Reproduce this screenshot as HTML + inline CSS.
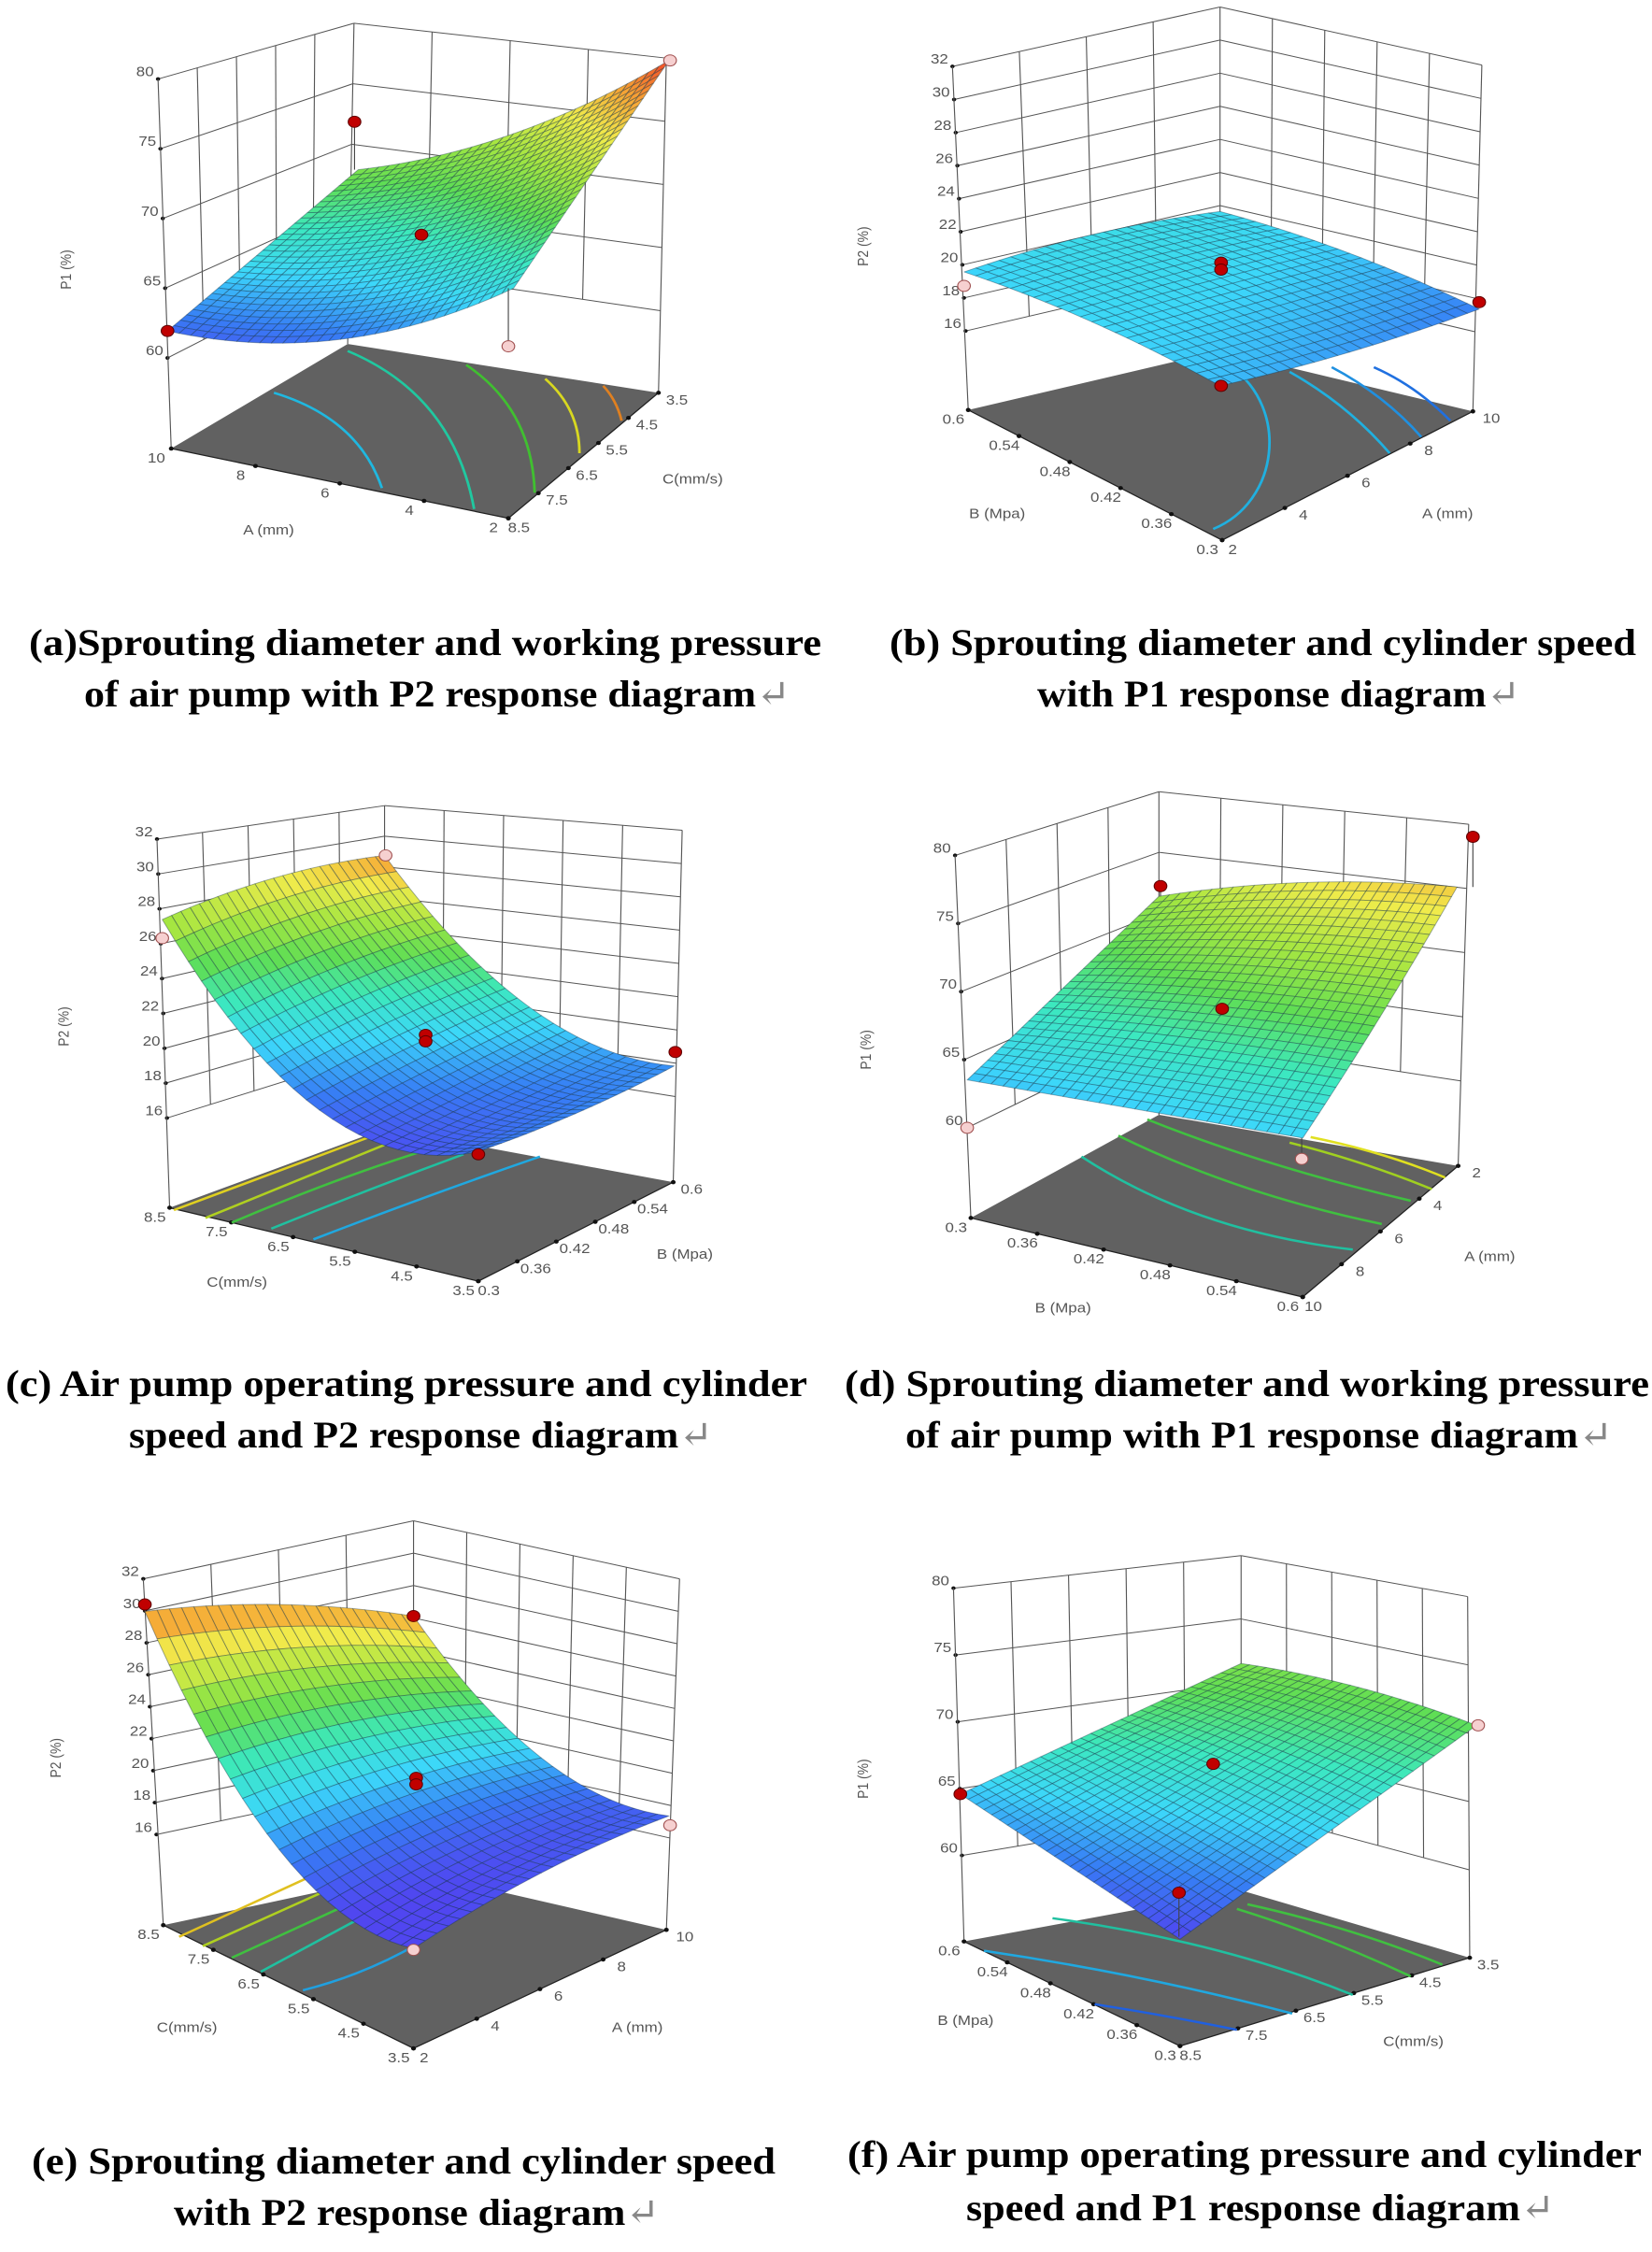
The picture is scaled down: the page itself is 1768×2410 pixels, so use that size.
<!DOCTYPE html>
<html><head><meta charset="utf-8"><style>body{margin:0;background:#fff}.ax text{font-family:"Liberation Sans",sans-serif}.cap text{font-family:"Liberation Serif","DejaVu Serif",serif;font-weight:bold}</style></head>
<body>
<svg id="root" xmlns="http://www.w3.org/2000/svg" width="1768" height="2405" viewBox="0 0 1768 2405">
<rect width="1768" height="2405" fill="#fff"/>
<g id="panels" class="ax"></g>
<g class="cap" font-size="40" fill="#000">
<text x="31" y="701" textLength="848" lengthAdjust="spacingAndGlyphs">(a)Sprouting diameter and working pressure</text>
<text x="90" y="756" textLength="756" lengthAdjust="spacingAndGlyphs">of air pump with P2 response diagram<tspan fill="#888" font-weight="normal">↵</tspan></text>
<text x="952" y="701" textLength="799" lengthAdjust="spacingAndGlyphs">(b) Sprouting diameter and cylinder speed</text>
<text x="1110" y="756" textLength="517" lengthAdjust="spacingAndGlyphs">with P1 response diagram<tspan fill="#888" font-weight="normal">↵</tspan></text>
<text x="6" y="1494" textLength="858" lengthAdjust="spacingAndGlyphs">(c) Air pump operating pressure and cylinder</text>
<text x="138" y="1549" textLength="625" lengthAdjust="spacingAndGlyphs">speed and P2 response diagram<tspan fill="#888" font-weight="normal">↵</tspan></text>
<text x="904" y="1494" textLength="861" lengthAdjust="spacingAndGlyphs">(d) Sprouting diameter and working pressure</text>
<text x="969" y="1549" textLength="757" lengthAdjust="spacingAndGlyphs">of air pump with P1 response diagram<tspan fill="#888" font-weight="normal">↵</tspan></text>
<text x="34" y="2326" textLength="796" lengthAdjust="spacingAndGlyphs">(e) Sprouting diameter and cylinder speed</text>
<text x="186" y="2381" textLength="520" lengthAdjust="spacingAndGlyphs">with P2 response diagram<tspan fill="#888" font-weight="normal">↵</tspan></text>
<text x="907" y="2319" textLength="850" lengthAdjust="spacingAndGlyphs">(f) Air pump operating pressure and cylinder</text>
<text x="1034" y="2376" textLength="630" lengthAdjust="spacingAndGlyphs">speed and P1 response diagram<tspan fill="#888" font-weight="normal">↵</tspan></text>
</g>
</svg>
<script>
const CM=[[0,[80,70,240]],[0.12,[55,125,245]],[0.25,[60,215,250]],[0.38,[60,232,190]],[0.5,[95,222,85]],[0.62,[165,230,65]],[0.75,[240,235,75]],[0.88,[247,155,50]],[1,[240,70,40]]];
function col(c){c=Math.max(0,Math.min(1,c));for(let i=1;i<CM.length;i++){if(c<=CM[i][0]){const a=CM[i-1],b=CM[i];const t=(c-a[0])/(b[0]-a[0]);return 'rgb('+a[1].map((x,j)=>Math.round(x+(b[1][j]-x)*t)).join(',')+')';}}return 'rgb(240,70,40)';}
function L(a,b,t){return [a[0]+(b[0]-a[0])*t,a[1]+(b[1]-a[1])*t];}
function ln(a,b,w,c){return `<line x1="${a[0].toFixed(1)}" y1="${a[1].toFixed(1)}" x2="${b[0].toFixed(1)}" y2="${b[1].toFixed(1)}" stroke="${c||'#555'}" stroke-width="${w||2}"/>`;}
function txt(x,y,s,a,sz,rot){return `<text x="${x}" y="${y}" font-size="${sz||30}" fill="#555" text-anchor="${a||'middle'}"${rot?` transform="rotate(-90 ${x} ${y})"`:''}>${s}</text>`;}
function bil(P,u,v,k){return P[0][k]*(1-u)*(1-v)+P[1][k]*u*(1-v)+P[2][k]*(1-u)*v+P[3][k]*u*v;}
function surf(p,u,v){const P=p.S;
 const x=bil(P,u,v,0);
 const y=bil(P,u,v,1)+4*v*(1-v)*(p.sv[0]*(1-u)+p.sv[1]*u)+4*u*(1-u)*(p.su[0]*(1-v)+p.su[1]*v);
 const c=p.c[0]*(1-u)*(1-v)+p.c[1]*u*(1-v)+p.c[2]*(1-u)*v+p.c[3]*u*v+4*v*(1-v)*(p.cv[0]*(1-u)+p.cv[1]*u)+4*u*(1-u)*(p.cu[0]*(1-v)+p.cu[1]*v);
 return [x,y,c];}
function panel(p){
 let s='';
 const f=(p.Lmin[1]-p.Ltop[1])/(p.Lfl[1]-p.Ltop[1]);
 const Lm=p.Lmin,Bm=L(p.Btop,p.Bfl,f),Rm=L(p.Rtop,p.Rfl,f);
 s+=`<polygon points="${p.Lfl} ${p.Bfl} ${p.Rfl} ${p.F}" fill="#616161"/>`;
 const n=p.ticks.length;
 for(let k=0;k<n;k++){const t=k/(n-1);const a=L(p.Ltop,Lm,t),b=L(p.Btop,Bm,t),c=L(p.Rtop,Rm,t);s+=ln(a,b)+ln(b,c);
  s+=`<circle cx="${a[0]}" cy="${a[1]}" r="4" fill="#111"/>`+txt(a[0]-8,a[1]-6,p.ticks[k],'end',30);}
 for(let i=1;i<p.nl;i++)s+=ln(L(p.Ltop,p.Btop,i/p.nl),L(Lm,Bm,i/p.nl));
 for(let i=1;i<p.nr;i++)s+=ln(L(p.Btop,p.Rtop,i/p.nr),L(Bm,Rm,i/p.nr));
 s+=ln(p.Ltop,p.Lfl)+ln(p.Btop,p.Bfl)+ln(p.Rtop,p.Rfl);
 s+=ln(p.Lfl,p.F,2.5,'#222')+ln(p.F,p.Rfl,2.5,'#222');
 const m=p.lf.length;for(let i=0;i<m;i++){const q=L(p.Lfl,p.F,i/(m-1));s+=`<circle cx="${q[0]}" cy="${q[1]}" r="4.5" fill="#111"/>`+txt(q[0]-28,q[1]+30,p.lf[i]);}
 const r=p.fr.length;for(let i=0;i<r;i++){const q=L(p.F,p.Rfl,i/(r-1));s+=`<circle cx="${q[0]}" cy="${q[1]}" r="4.5" fill="#111"/>`+txt(q[0]+(i==0?20:35),q[1]+(i==0?30:25),p.fr[i]);}
 for(const c of p.cont)s+=`<path d="${c[0]}" fill="none" stroke="${c[1]}" stroke-width="5"/>`;
 const N=p.N,cells=[];
 for(let i=0;i<N;i++)for(let j=0;j<N;j++)cells.push([i,j]);
 cells.sort((a,b)=>(a[0]+a[1])-(b[0]+b[1]));
 for(const [i,j] of cells){const a=surf(p,i/N,j/N),b=surf(p,(i+1)/N,j/N),c=surf(p,(i+1)/N,(j+1)/N),d=surf(p,i/N,(j+1)/N),m=surf(p,(i+.5)/N,(j+.5)/N);
  s+=`<polygon points="${a[0].toFixed(1)},${a[1].toFixed(1)} ${b[0].toFixed(1)},${b[1].toFixed(1)} ${c[0].toFixed(1)},${c[1].toFixed(1)} ${d[0].toFixed(1)},${d[1].toFixed(1)}" fill="${col(m[2])}" stroke="rgba(20,50,70,0.4)" stroke-width="1.8" stroke-linejoin="round"/>`;}
 for(const d of p.dots){if(d[3])s+=ln([d[0],d[1]],[d[0],d[3]],2,'#444');
  s+=`<circle cx="${d[0]}" cy="${d[1]}" r="12" fill="${d[2]?'#f6d0d0':'#c00000'}" stroke="${d[2]?'#a05050':'#600000'}" stroke-width="2"/>`;}
 s+=txt(p.t1[0],p.t1[1],p.t1[2],'middle',28,1)+txt(p.t2[0],p.t2[1],p.t2[2],'middle',30)+txt(p.t3[0],p.t3[1],p.t3[2],'middle',30);
 return `<svg x="${p.ox}" y="${p.oy}" width="884" height="780" viewBox="0 0 1568 1568" preserveAspectRatio="none">${s}</svg>`;
}
const T1=['80','75','70','65','60'],T2=['32','30','28','26','24','22','20','18','16'];
const Bv=['0.6','0.54','0.48','0.42','0.36','0.3'],Cv=['8.5','7.5','6.5','5.5','4.5','3.5'];
const P=[
{ox:0,oy:0,Ltop:[300,170],Lmin:[318,770],Lfl:[325,965],Btop:[672,50],Bfl:[660,740],Rtop:[1265,125],Rfl:[1250,845],F:[965,1115],ticks:T1,nl:5,nr:4,
 lf:['10','8','6','4','2'],fr:['8.5','7.5','6.5','5.5','4.5','3.5'],
 S:[[680,365],[318,712],[1270,130],[975,620]],sv:[40,64],su:[0,0],c:[0.55,0.08,1.0,0.3],cv:[-0.12,-0.08],cu:[0,0],N:30,
 dots:[[673,262,0,365],[800,505,0],[318,712,0],[1272,130,1],[965,745,1,620]],
 cont:[['M 520 845 Q 680 900 725 1050','#1fb8e0'],['M 660 755 Q 860 850 900 1095','#20c8a0'],['M 885 785 Q 1010 880 1015 1060','#40c030'],['M 1035 815 Q 1100 880 1100 975','#d8d820'],['M 1145 830 Q 1170 860 1180 905','#e08020']],
 t1:[135,580,'P1 (%)'],t2:[510,1150,'A (mm)'],t3:[1315,1040,'C(mm/s)']},
{ox:884,oy:0,Ltop:[240,143],Lmin:[265,712],Lfl:[270,882],Btop:[748,15],Bfl:[748,755],Rtop:[1245,140],Rfl:[1228,885],F:[752,1162],ticks:T2,nl:4,nr:5,
 lf:Bv,fr:['2','4','6','8','10'],
 S:[[748,455],[262,585],[1240,665],[748,830]],sv:[-15,-15],su:[-15,10],c:[0.27,0.24,0.12,0.21],cv:[0.03,0.03],cu:[0.03,0],N:22,
 dots:[[262,615,1],[750,565,0],[750,580,0],[1240,650,0],[750,830,0]],
 cont:[['M 735 1138 C 860 1080 880 880 770 790','#20b0e0'],['M 880 800 Q 990 870 1070 975','#20b0e0'],['M 960 790 Q 1060 850 1130 940','#2090e0'],['M 1040 790 Q 1120 830 1185 905','#2070e0']],
 t1:[80,530,'P2 (%)'],t2:[325,1115,'B (Mpa)'],t3:[1180,1115,'A (mm)']},
{ox:0,oy:800,Ltop:[298,197],Lmin:[317,797],Lfl:[322,990],Btop:[730,125],Bfl:[730,820],Rtop:[1295,178],Rfl:[1278,935],F:[908,1148],ticks:T2,nl:5,nr:5,
 lf:Cv,fr:['0.3','0.36','0.42','0.48','0.54','0.6'],
 S:[[730,232],[308,370],[1280,685],[905,870]],sv:[100,160],su:[-20,10],c:[0.88,0.65,0.15,0.12],cv:[-0.2,-0.3],cu:[0,0],N:24,
 dots:[[308,410,1],[732,232,1],[808,618,0],[808,632,0],[1282,655,0],[908,875,0]],
 cont:[['M 330 995 L 720 830','#e0d020'],['M 390 1012 L 740 850','#b0d020'],['M 440 1022 Q 640 925 820 862','#40c040'],['M 515 1035 Q 700 950 880 875','#20c0a0'],['M 595 1058 Q 820 960 1025 880','#20a8e0']],
 t1:[130,600,'P2 (%)'],t2:[450,1160,'C(mm/s)'],t3:[1300,1100,'B (Mpa)']},
{ox:884,oy:800,Ltop:[245,232],Lmin:[268,818],Lfl:[275,1012],Btop:[632,95],Bfl:[632,790],Rtop:[1220,165],Rfl:[1200,900],F:[905,1182],ticks:T1,nl:4,nr:5,
 lf:['0.3','0.36','0.42','0.48','0.54','0.6'],fr:['10','8','6','4','2'],
 S:[[632,320],[268,715],[1198,300],[905,840]],sv:[-20,0],su:[0,10],c:[0.6,0.22,0.8,0.25],cv:[0.05,0],cu:[0,0],N:28,
 dots:[[635,298,0,320],[1228,192,0,300],[752,562,0],[268,818,1],[903,885,1,840]],
 cont:[['M 485 880 Q 700 1040 1000 1080','#20c0a0'],['M 555 835 Q 780 960 1055 1025','#40c040'],['M 610 800 Q 830 900 1110 975','#40c040'],['M 880 850 Q 1020 890 1150 950','#a0d020'],['M 920 838 Q 1060 870 1175 925','#e0e020']],
 t1:[85,650,'P1 (%)'],t2:[450,1215,'B (Mpa)'],t3:[1260,1105,'A (mm)']},
{ox:0,oy:1625,Ltop:[272,130],Lmin:[297,680],Lfl:[310,875],Btop:[785,5],Bfl:[785,760],Rtop:[1290,130],Rfl:[1265,885],F:[785,1140],ticks:T2,nl:4,nr:5,
 lf:Cv,fr:['2','4','6','8','10'],
 S:[[785,210],[275,200],[1270,640],[785,925]],sv:[90,150],su:[-20,-20],c:[0.86,0.9,0.07,0.0],cv:[-0.25,-0.3],cu:[0,0],N:22,
 dots:[[275,185,0],[785,210,0],[790,558,0],[790,572,0],[1272,660,1],[785,928,1]],
 cont:[['M 340 900 L 590 770','#e0c020'],['M 385 920 L 620 800','#b0d020'],['M 440 945 L 680 820','#40c040'],['M 495 975 L 700 850','#20c0a0'],['M 575 1015 Q 800 950 960 770','#20a0e0']],
 t1:[115,515,'P2 (%)'],t2:[355,1105,'C(mm/s)'],t3:[1210,1105,'A (mm)']},
{ox:884,oy:1625,Ltop:[242,150],Lmin:[258,725],Lfl:[262,910],Btop:[788,80],Bfl:[788,800],Rtop:[1218,168],Rfl:[1222,945],F:[672,1135],ticks:T1,nl:5,nr:5,
 lf:Bv,fr:Cv,
 S:[[788,312],[255,593],[1235,445],[672,905]],sv:[-15,0],su:[0,0],c:[0.55,0.22,0.5,0.0],cv:[0,0],cu:[0.03,0],N:28,
 dots:[[255,593,0],[735,528,0],[1238,445,1],[670,805,0,900]],
 cont:[['M 510 1045 Q 650 1070 780 1100','#2060e0'],['M 300 930 Q 600 980 885 1065','#20a8e0'],['M 430 860 Q 750 910 1000 1025','#20c0a0'],['M 780 840 Q 950 900 1110 985','#40c040'],['M 800 830 Q 1000 880 1170 960','#40c040']],
 t1:[80,560,'P1 (%)'],t2:[265,1090,'B (Mpa)'],t3:[1115,1135,'C(mm/s)']}
];
document.getElementById('panels').innerHTML=P.map(panel).join('');
</script>
</body></html>
